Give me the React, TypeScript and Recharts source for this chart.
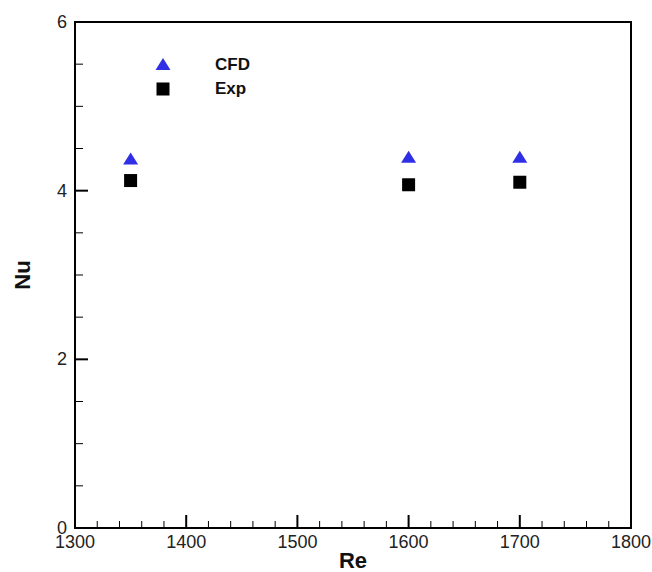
import { ScatterChart, Scatter, XAxis, YAxis, ReferenceArea } from 'recharts';

const reValues = [1350, 1600, 1700];
const cfdNu = [4.37, 4.39, 4.39];
const expNu = [4.12, 4.07, 4.1];

const xTicks = [1300, 1320, 1340, 1360, 1380, 1400, 1420, 1440, 1460, 1480, 1500, 1520, 1540, 1560, 1580, 1600, 1620, 1640, 1660, 1680, 1700, 1720, 1740, 1760, 1780, 1800];
const xMajor = [1300, 1400, 1500, 1600, 1700, 1800];
const yTicks = [0, 0.5, 1, 1.5, 2, 2.5, 3, 3.5, 4, 4.5, 5, 5.5, 6];
const yMajor = [0, 2, 4, 6];

const cfdData = reValues.map((re, i) => ({ re, nu: cfdNu[i] }));
const expData = reValues.map((re, i) => ({ re, nu: expNu[i] }));

const FONT = '"Liberation Sans", Arial, sans-serif';
const BLUE = '#2f2fe6';

const Triangle = ({ cx, cy }: any) => (
  <polygon points={`${cx},${cy - 7} ${cx - 7.5},${cy + 5} ${cx + 7.5},${cy + 5}`} fill={BLUE} />
);

const Square = ({ cx, cy }: any) => <rect x={cx - 6.5} y={cy - 6.5} width={13} height={13} fill="#000" />;

const XTick = ({ x, y, payload }: any) => {
  const major = xMajor.includes(payload.value);
  return (
    <g>
      <line x1={x} y1={y} x2={x} y2={y - (major ? 13 : 7)} stroke="#000" strokeWidth={major ? 2 : 1} />
      {major && (
        <text x={x} y={y + 20} textAnchor="middle" fontSize={18} fill="#222" fontFamily={FONT}>
          {payload.value}
        </text>
      )}
    </g>
  );
};

const YTick = ({ x, y, payload }: any) => {
  const major = yMajor.includes(payload.value);
  return (
    <g>
      <line x1={x} y1={y} x2={x + (major ? 13 : 8)} y2={y} stroke="#000" strokeWidth={major ? 2 : 1} />
      {major && (
        <text x={x - 8} y={y + 6} textAnchor="end" fontSize={18} fill="#222" fontFamily={FONT}>
          {payload.value}
        </text>
      )}
    </g>
  );
};

const legendItems = [
  { name: 'CFD', mark: <polygon points="8,1 0.5,13 15.5,13" fill={BLUE} /> },
  { name: 'Exp', mark: <rect x={1.5} y={1.5} width={13} height={13} fill="#000" /> },
];

export default function App() {
  return (
    <div style={{ position: 'absolute', left: 0, top: 0, background: '#fff' }}>
      <ScatterChart width={652} height={572} margin={{ top: 22, right: 21, bottom: 43, left: 74 }}>
        <XAxis
          type="number"
          dataKey="re"
          domain={[1300, 1800]}
          ticks={xTicks}
          interval={0}
          height={1}
          tickSize={0}
          tickMargin={0}
          tickLine={false}
          tick={<XTick />}
          axisLine={{ stroke: '#000', strokeWidth: 2 }}
          label={{
            content: ({ viewBox }: any) => (
              <text
                x={viewBox.x + viewBox.width / 2}
                y={viewBox.y + 40}
                textAnchor="middle"
                fontSize={22}
                fontWeight="bold"
                fontFamily={FONT}
                fill="#111"
              >
                Re
              </text>
            ),
          }}
        />
        <YAxis
          type="number"
          dataKey="nu"
          domain={[0, 6]}
          ticks={yTicks}
          interval={0}
          width={1}
          tickSize={0}
          tickMargin={0}
          tickLine={false}
          tick={<YTick />}
          axisLine={{ stroke: '#000', strokeWidth: 2 }}
          label={{
            content: ({ viewBox }: any) => {
              const cx = viewBox.x - 52;
              const cy = viewBox.y + viewBox.height / 2;
              return (
                <text
                  x={cx}
                  y={cy}
                  transform={`rotate(-90, ${cx}, ${cy})`}
                  textAnchor="middle"
                  dominantBaseline="central"
                  fontSize={22}
                  fontWeight="bold"
                  fontFamily={FONT}
                  fill="#111"
                >
                  Nu
                </text>
              );
            },
          }}
        />
        <ReferenceArea x1={1300} x2={1800} y1={0} y2={6} fill="none" stroke="#000" strokeWidth={2} ifOverflow="visible" />
        <Scatter name="CFD" data={cfdData} shape={<Triangle />} fill={BLUE} isAnimationActive={false} />
        <Scatter name="Exp" data={expData} shape={<Square />} fill="#000" isAnimationActive={false} />
      </ScatterChart>
      <div
        style={{
          position: 'absolute',
          left: 155,
          top: 53,
          fontFamily: FONT,
          fontWeight: 'bold',
          fontSize: 17,
          color: '#111',
        }}
      >
        {legendItems.map((item) => (
          <div key={item.name} style={{ display: 'flex', alignItems: 'center', height: 24 }}>
            <svg width={16} height={16} style={{ marginRight: 44 }}>
              {item.mark}
            </svg>
            <span>{item.name}</span>
          </div>
        ))}
      </div>
    </div>
  );
}
